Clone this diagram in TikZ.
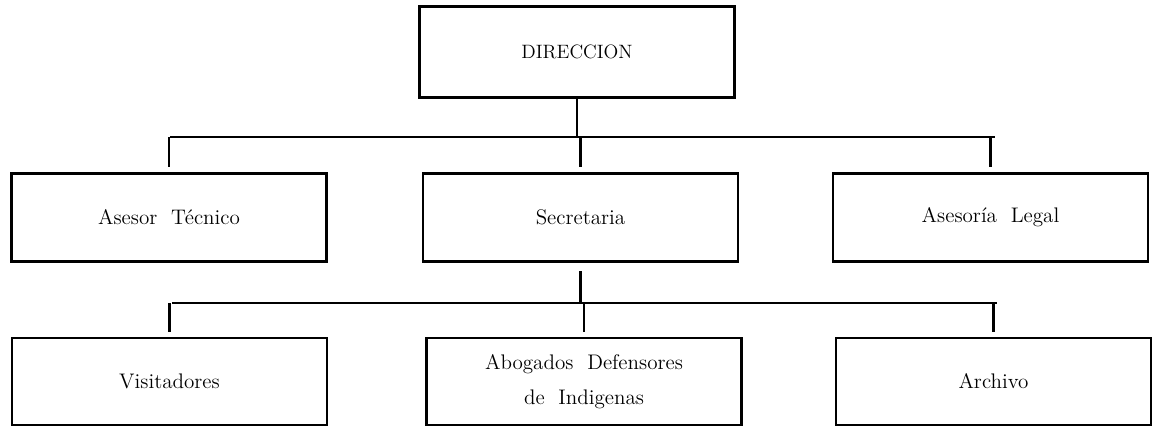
\documentclass[tikz,border=0pt]{standalone}
\usepackage{tikz}
\tikzstyle{unit}=[draw, line width=1.2pt, inner sep=0pt, minimum width=6.3cm, minimum height=1.76cm, align=center, font=\large]
\tikzstyle{link}=[line width=1.4pt]

\begin{document}
\begin{tikzpicture}[x=0.02cm,y=-0.02cm]
\useasboundingbox (0,0) rectangle (1153,427);
\def \rowa {52}
\def \rowb {217.5}
\def \rowc {381.5}
% cajas
\node[unit, font=\fontsize{11}{13}\selectfont, minimum height=1.82cm] (dir) at (577,\rowa) {DIRECCION};
\node[unit] (ase) at (169,\rowb) {Asesor\ \ T\'ecnico};
\node[unit] (sec) at (580.5,\rowb) {Secretaria};
\node[unit] (leg) at (990.5,\rowb) {Asesor\'ia\ \ Legal};
\node[unit, minimum height=1.74cm] (vis) at (169.5,\rowc) {Visitadores};
\node[unit, minimum height=1.74cm] (abo) at (584,\rowc) {Abogados\ \ Defensores\\[6pt] de\ \ Indigenas};
\node[unit, minimum height=1.74cm] (arc) at (993.5,\rowc) {Archivo};
% lineas
\coordinate (busa) at (170,137);
\coordinate (busb) at (995,137);
\coordinate (busc) at (172,303);
\coordinate (busd) at (997,303);
\draw[link] (busa) -- (busb);
\draw[link] (busc) -- (busd);
\draw[link] (dir.south) -- (dir.south |- busa);
\draw[link, shorten <=5pt] (sec.south) -- (sec.south |- busc);
\foreach \n in {ase,sec,leg} {
	\draw[link, shorten >=3pt] (\n.north |- busa) -- (\n.north);
}
\foreach \n in {vis,abo,arc} {
	\draw[link, shorten >=3pt] (\n.north |- busc) -- (\n.north);
}
\end{tikzpicture}
\end{document}
